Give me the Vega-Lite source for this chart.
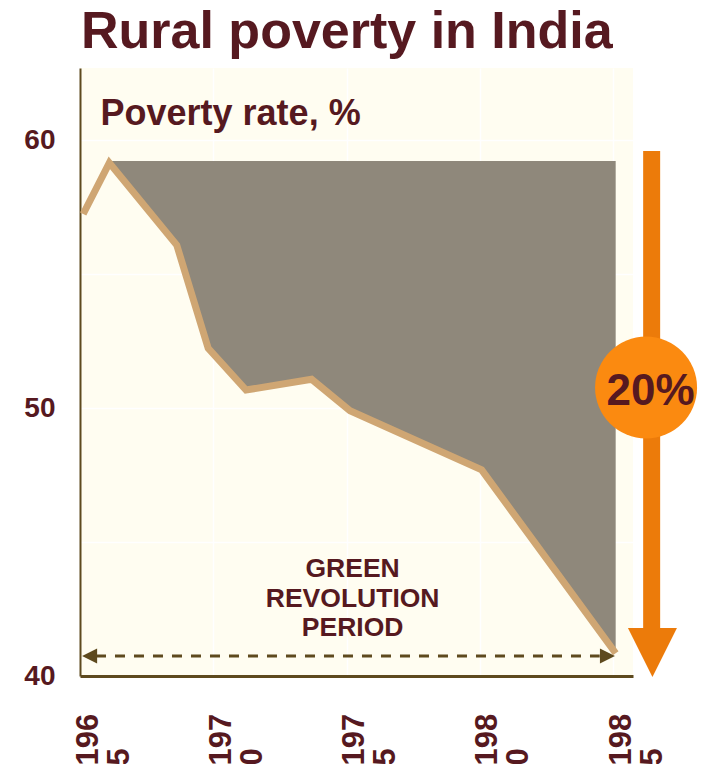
{
  "$schema": "https://vega.github.io/schema/vega-lite/v6.json",
  "width": 553,
  "height": 608,
  "autosize": {"type": "none"},
  "padding": {"left": 80, "top": 68, "right": 69, "bottom": 88},
  "background": "#ffffff",
  "config": {
    "font": "Liberation Sans",
    "view": {"fill": "#fffdf1", "stroke": null},
    "axisX": {
      "title": null,
      "format": "d",
      "labelExpr": "[substring(datum.label,0,3), substring(datum.label,3,4)]",
      "labelAngle": 270,
      "labelAlign": "left",
      "labelBaseline": "middle",
      "labelPadding": 89,
      "labelOffset": 8,
      "labelFontSize": 31,
      "labelFontWeight": "bold",
      "labelColor": "#561920",
      "labelLineHeight": 31,
      "labelOverlap": false,
      "labelFlush": false,
      "labelBound": false,
      "ticks": false,
      "domainColor": "#5e4a1e",
      "domainWidth": 3,
      "grid": true,
      "gridColor": "#ffffff",
      "gridWidth": 1.5
    },
    "axisY": {
      "title": null,
      "labelExpr": "datum.value % 10 == 0 ? datum.label : ''",
      "labelPadding": 25,
      "labelFontSize": 28,
      "labelFontWeight": "bold",
      "labelColor": "#561920",
      "labelFlush": false,
      "labelOverlap": false,
      "ticks": false,
      "domainColor": "#5e4a1e",
      "domainWidth": 2,
      "grid": true,
      "gridColor": "#ffffff",
      "gridWidth": 1.5
    }
  },
  "title": {
    "text": "Rural poverty in India",
    "anchor": "start",
    "frame": "group",
    "fontSize": 52,
    "fontWeight": "bold",
    "color": "#561920",
    "baseline": "alphabetic",
    "offset": -32,
    "dx": 1
  },
  "data": {
    "values": [
      {"year": 1965.12, "rate": 57.24},
      {"year": 1966.1, "rate": 59.15},
      {"year": 1968.63, "rate": 56.08},
      {"year": 1969.81, "rate": 52.23},
      {"year": 1971.23, "rate": 50.67},
      {"year": 1973.69, "rate": 51.07},
      {"year": 1975.13, "rate": 49.9},
      {"year": 1980.07, "rate": 47.69},
      {"year": 1985.1, "rate": 40.85}
    ]
  },
  "layer": [
    {
      "transform": [{"filter": "datum.year >= 1966"}],
      "mark": {"type": "area", "color": "#8f887b", "opacity": 1},
      "encoding": {
        "x": {"field": "year", "type": "quantitative", "title": null, "scale": {"domain": [1965, 1985.75], "nice": false, "zero": false}, "axis": {"values": [1965, 1970, 1975, 1980, 1985]}},
        "y": {"field": "rate", "type": "quantitative", "title": null, "scale": {"domain": [40, 62.687], "nice": false, "zero": false}, "axis": {"values": [40, 45, 50, 55, 60]}},
        "y2": {"datum": 59.22}
      }
    },
    {
      "mark": {"type": "line", "color": "#cfa673", "strokeWidth": 7, "strokeJoin": "miter", "strokeCap": "butt"},
      "encoding": {
        "x": {"field": "year", "type": "quantitative", "title": null, "scale": {"domain": [1965, 1985.75], "nice": false, "zero": false}},
        "y": {"field": "rate", "type": "quantitative", "title": null, "scale": {"domain": [40, 62.687], "nice": false, "zero": false}}
      }
    },
    {
      "data": {"values": [{}]},
      "mark": {"type": "rule", "color": "#5e4a1e", "strokeWidth": 3, "strokeDash": [10, 9]},
      "encoding": {
        "x": {"datum": 1965.6, "type": "quantitative", "title": null, "scale": {"domain": [1965, 1985.75], "nice": false, "zero": false}},
        "x2": {"datum": 1984.5},
        "y": {"datum": 40.746, "type": "quantitative", "title": null, "scale": {"domain": [40, 62.687], "nice": false, "zero": false}}
      }
    },
    {
      "data": {"values": [{}]},
      "mark": {"type": "point", "shape": "M-1,0L1,-1L1,1Z", "size": 225, "filled": true, "color": "#5e4a1e", "opacity": 1, "strokeWidth": 0},
      "encoding": {
        "x": {"datum": 1965.36, "type": "quantitative", "title": null, "scale": {"domain": [1965, 1985.75], "nice": false, "zero": false}},
        "y": {"datum": 40.746, "type": "quantitative", "title": null, "scale": {"domain": [40, 62.687], "nice": false, "zero": false}}
      }
    },
    {
      "data": {"values": [{}]},
      "mark": {"type": "point", "shape": "M1,0L-1,-1L-1,1Z", "size": 225, "filled": true, "color": "#5e4a1e", "opacity": 1, "strokeWidth": 0},
      "encoding": {
        "x": {"datum": 1984.79, "type": "quantitative", "title": null, "scale": {"domain": [1965, 1985.75], "nice": false, "zero": false}},
        "y": {"datum": 40.746, "type": "quantitative", "title": null, "scale": {"domain": [40, 62.687], "nice": false, "zero": false}}
      }
    },
    {
      "data": {"values": [{}]},
      "mark": {"type": "rule", "color": "#ec7b0a", "strokeWidth": 17, "strokeCap": "butt"},
      "encoding": {
        "x": {"datum": 1986.45, "type": "quantitative", "title": null, "scale": {"domain": [1965, 1985.75], "nice": false, "zero": false}},
        "y": {"datum": 59.59, "type": "quantitative", "title": null, "scale": {"domain": [40, 62.687], "nice": false, "zero": false}},
        "y2": {"datum": 41.7}
      }
    },
    {
      "data": {"values": [{}]},
      "mark": {"type": "point", "shape": "M-1,-1L1,-1L0,1Z", "size": 2401, "filled": true, "color": "#ec7b0a", "opacity": 1, "strokeWidth": 0},
      "encoding": {
        "x": {"datum": 1986.48, "type": "quantitative", "title": null, "scale": {"domain": [1965, 1985.75], "nice": false, "zero": false}},
        "y": {"datum": 40.88, "type": "quantitative", "title": null, "scale": {"domain": [40, 62.687], "nice": false, "zero": false}}
      }
    },
    {
      "data": {"values": [{}]},
      "mark": {"type": "point", "shape": "circle", "size": 10404, "filled": true, "color": "#fb8a10", "opacity": 1, "strokeWidth": 0},
      "encoding": {
        "x": {"datum": 1986.24, "type": "quantitative", "title": null, "scale": {"domain": [1965, 1985.75], "nice": false, "zero": false}},
        "y": {"datum": 50.765, "type": "quantitative", "title": null, "scale": {"domain": [40, 62.687], "nice": false, "zero": false}}
      }
    },
    {
      "data": {"values": [{}]},
      "mark": {"type": "text", "text": "20%", "fontSize": 44, "fontWeight": "bold", "color": "#561920", "align": "center", "baseline": "alphabetic"},
      "encoding": {
        "x": {"datum": 1986.41, "type": "quantitative", "title": null, "scale": {"domain": [1965, 1985.75], "nice": false, "zero": false}},
        "y": {"datum": 50.11, "type": "quantitative", "title": null, "scale": {"domain": [40, 62.687], "nice": false, "zero": false}}
      }
    },
    {
      "data": {"values": [{}]},
      "mark": {"type": "text", "text": "Poverty rate, %", "fontSize": 36, "fontWeight": "bold", "color": "#561920", "align": "left", "baseline": "alphabetic"},
      "encoding": {
        "x": {"datum": 1965.77, "type": "quantitative", "title": null, "scale": {"domain": [1965, 1985.75], "nice": false, "zero": false}},
        "y": {"datum": 60.56, "type": "quantitative", "title": null, "scale": {"domain": [40, 62.687], "nice": false, "zero": false}}
      }
    },
    {
      "data": {"values": [{}]},
      "mark": {"type": "text", "text": ["GREEN", "REVOLUTION", "PERIOD"], "lineHeight": 29.5, "fontSize": 26.5, "fontWeight": "bold", "color": "#561920", "align": "center", "baseline": "alphabetic"},
      "encoding": {
        "x": {"datum": 1975.23, "type": "quantitative", "title": null, "scale": {"domain": [1965, 1985.75], "nice": false, "zero": false}},
        "y": {"datum": 43.69, "type": "quantitative", "title": null, "scale": {"domain": [40, 62.687], "nice": false, "zero": false}}
      }
    }
  ]
}
